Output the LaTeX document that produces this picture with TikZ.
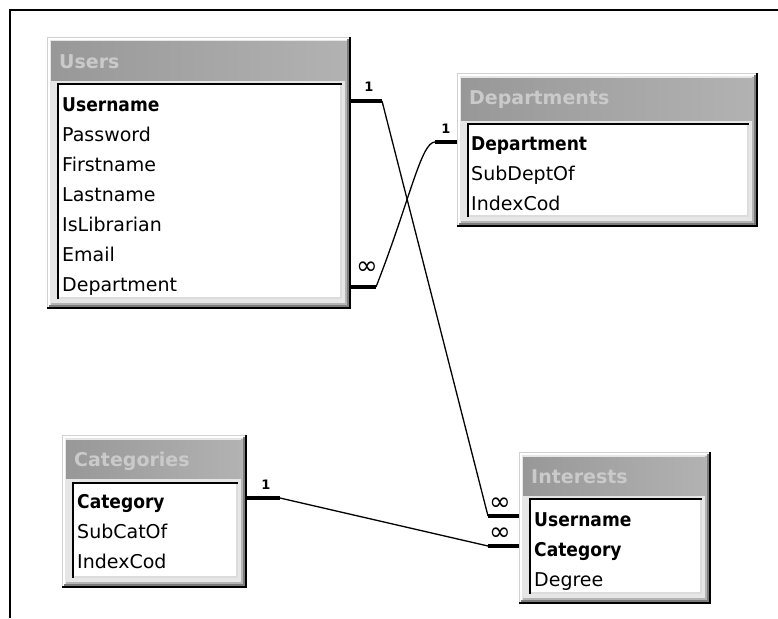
\documentclass[tikz,border=0pt]{standalone}
\usepackage{fontspec}
\setmainfont{DejaVu Sans}
\usetikzlibrary{calc}

\definecolor{paneface}{HTML}{E6E6E6}
\definecolor{paneouter}{HTML}{D2D2D2}
\definecolor{paneshade}{HTML}{B4B4B4}
\definecolor{panedark}{HTML}{7C7C7C}
\definecolor{listlight}{HTML}{DCDCDC}
\definecolor{captionL}{HTML}{989898}
\definecolor{captionR}{HTML}{B2B2B2}
\definecolor{captiontext}{HTML}{CACACA}

% key fields are set bold and slightly condensed
\newcommand\keytext[1]{\scalebox{0.9}[1]{\bfseries #1}}

% one table window: name, left, top, right, bottom, caption-bar bottom, list top, caption
\newcommand\dbtable[8]{%
  \pgfmathsetmacro\tblw{#4-#2}%
  \pgfmathsetmacro\tblh{#5-#3}%
  \pgfmathsetmacro\tblx{(#2+#4)/2}%
  \pgfmathsetmacro\tbly{(#3+#5)/2}%
  \node[panel, minimum width=\tblw pt, minimum height=\tblh pt] (#1) at (\tblx,\tbly) {};
  % raised window edge
  \draw[paneouter, line width=1pt] (#2+0.5,#5) -- (#2+0.5,#3+0.5) -- (#4,#3+0.5);
  \draw[white, line width=2pt] (#2+2,#5-2) -- (#2+2,#3+2) -- (#4-2,#3+2);
  \draw[paneshade, line width=2pt] (#2+4,#5-5) -- (#4-5,#5-5) -- (#4-5,#3+4);
  \draw[panedark, line width=2pt] (#2+2,#5-3) -- (#4-3,#5-3) -- (#4-3,#3+2);
  \draw[black, line width=2pt] (#2,#5-1) -- (#4-1,#5-1) -- (#4-1,#3);
  % caption bar
  \shade[left color=captionL, right color=captionR] (#2+4,#3+5) rectangle (#4-6,#6);
  \node[tabletitle] (#1-title) at (#2+12,#3+24) {#8};
  % sunken field list
  \fill[white] (#2+10,#7) rectangle (#4-9,#5-10);
  \draw[listlight, line width=2pt] (#2+10,#5-11) -- (#4-10,#5-11) -- (#4-10,#7);
  \draw[black, line width=2pt] (#2+11,#5-10) -- (#2+11,#7+1) -- (#4-9,#7+1);
}

\begin{document}
\begin{tikzpicture}[x=1pt,y=-1pt,
  panel/.style={fill=paneface, draw=none, inner sep=0pt, outer sep=0pt},
  tabletitle/.style={anchor=west, inner sep=0pt, text height=14pt, text depth=0pt,
    text=captiontext, font=\fontsize{19}{19}\selectfont\bfseries},
  field/.style={anchor=west, inner sep=0pt, text height=14pt, text depth=0pt,
    font=\fontsize{19}{19}\selectfont},
  keybar/.style={line width=4pt, black},
  relline/.style={line width=1.3pt, black},
  onelabel/.style={inner sep=0pt, font=\fontsize{13}{13}\selectfont\bfseries},
  manylabel/.style={inner sep=0pt, font=\fontsize{26}{26}\selectfont},
]
\useasboundingbox (0,0) rectangle (778,618);

% window frame
\draw[line width=2pt] (10,618) -- (10,10) -- (778,10);

% tables
\dbtable{users}{47}{37}{351}{309}{80}{83}{Users}
\node[field] (users-username)   at (62,104) {\keytext{Username}};
\node[field] (users-password)   at (62,134) {Password};
\node[field] (users-firstname)  at (62,164) {Firstname};
\node[field] (users-lastname)   at (62,194) {Lastname};
\node[field] (users-islibrarian) at (62,224) {IsLibrarian};
\node[field] (users-email)      at (62,254) {Email};
\node[field] (users-department) at (62,284) {Department};

\dbtable{departments}{457}{73}{758}{227}{120}{123}{Departments}
\node[field] (dept-department) at (471,143) {\keytext{Department}};
\node[field] (dept-subdeptof)  at (471,173) {SubDeptOf};
\node[field] (dept-indexcod)   at (471,203) {IndexCod};

\dbtable{categories}{62}{435}{247}{588}{478}{482}{Categories}
\node[field] (cat-category) at (77,501) {\keytext{Category}};
\node[field] (cat-subcatof) at (77,531) {SubCatOf};
\node[field] (cat-indexcod) at (77,561) {IndexCod};

\dbtable{interests}{519}{452}{711}{604}{495}{498}{Interests}
\node[field] (int-username) at (534,519) {\keytext{Username}};
\node[field] (int-category) at (534,549) {\keytext{Category}};
\node[field] (int-degree)   at (534,579) {Degree};

% relationship end bars
\draw[keybar] ($(users.east |- users-username)+(0,-3)$) -- ++(31,0) coordinate (uu-end);
\draw[keybar] ($(users.east |- users-department)+(0,3)$) -- ++(25,0) coordinate (ud-end);
\draw[keybar] ($(departments.west |- dept-department)+(0,-1)$) -- ++(-22,0) coordinate (dd-end);
\draw[keybar] ($(categories.east |- cat-category)+(0,-3)$) -- ++(33,0) coordinate (cc-end);
\draw[keybar] ($(interests.west |- int-username)+(0,-3)$) -- ++(-31,0) coordinate (iu-end);
\draw[keybar] ($(interests.west |- int-category)+(0,-3)$) -- ++(-31,0) coordinate (ic-end);

% cardinality marks
\node[onelabel] (uu-one) at ($(users.east |- users-username)+(18,-17)$) {1};
\node[manylabel] (ud-many) at ($(users.east |- users-department)+(16,-16)$) {∞};
\node[onelabel] (dd-one) at ($(departments.west |- dept-department)+(-11,-14)$) {1};
\node[onelabel] (cc-one) at ($(categories.east |- cat-category)+(19,-16)$) {1};
\node[manylabel] (iu-many) at ($(interests.west |- int-username)+(-19,-15)$) {∞};
\node[manylabel] (ic-many) at ($(interests.west |- int-category)+(-19,-15)$) {∞};

% relationship lines
\draw[relline] (uu-end) -- (iu-end);
\draw[relline] (ud-end) .. controls +(34,-87) and +(-14,0) .. (dd-end);
\draw[relline] (cc-end) -- (ic-end);
\end{tikzpicture}
\end{document}
